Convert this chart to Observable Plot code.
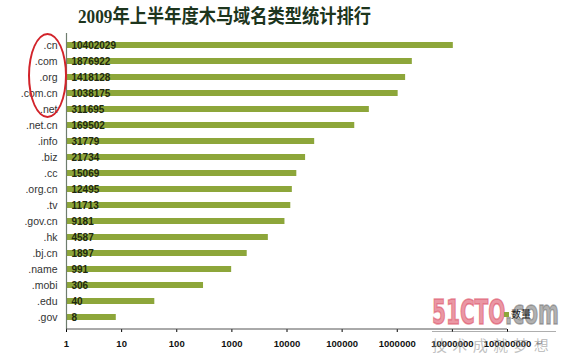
<!DOCTYPE html>
<html>
<head>
<meta charset="utf-8">
<script src="https://cdn.jsdelivr.net/npm/d3@7"></script>
<script src="https://cdn.jsdelivr.net/npm/@observablehq/plot@0.6"></script>
<style>
  html, body { margin: 0; padding: 0; background: #fff; }
  #wrap { position: relative; width: 566px; height: 362px; overflow: hidden; font-family: "Liberation Sans", Arial, sans-serif; }
  #title { position: absolute; left: 78px; top: 6px; font-family: "Liberation Serif", "Noto Sans CJK SC", serif; font-weight: bold; font-size: 19px; line-height: 22px; color: #1d351d; white-space: nowrap; }
  #ellipse { position: absolute; left: 28px; top: 33px; width: 35px; height: 81px; border: 2px solid #d2232a; border-radius: 50%; }
  .ov { position: absolute; white-space: nowrap; transform-origin: 0 0; }
  #wm1 { left: 432px; top: 296px; font-family: "DejaVu Sans", sans-serif; font-weight: bold; font-size: 33px; line-height: 34px; }
  #wm1 .a { color: rgba(222, 90, 110, 0.65); -webkit-text-stroke: 1.6px rgba(222, 90, 110, 0.65); }
  #wm1 .b { color: rgba(110, 110, 110, 0.55); -webkit-text-stroke: 1.6px rgba(110, 110, 110, 0.55); }
  #wmline { position: absolute; left: 432px; top: 331px; width: 124px; height: 1px; background: rgba(120,120,120,0.6); }
  #wm2 { left: 432px; top: 335px; font-family: "Noto Sans CJK SC", sans-serif; font-size: 15px; line-height: 20px; color: rgba(140,140,140,0.55); }
  #ret { position: absolute; left: 536px; top: 338px; font-family: "DejaVu Sans", sans-serif; font-size: 9px; color: #888; }
  #legend { position: absolute; left: 504px; top: 307px; font-family: "Noto Sans CJK SC", sans-serif; font-size: 10px; line-height: 13px; color: #222; white-space: nowrap; }
  #legend i { display: inline-block; width: 5px; height: 5px; background: #8da63a; margin-right: 2px; vertical-align: 1px; }
</style>
</head>
<body>
<div id="wrap">
  <div id="chart"></div>
  <div id="title" class="ov">2009年上半年度木马域名类型统计排行</div>
  <div id="ellipse"></div>
  <div id="wm1" class="ov"><span class="a">51CTO</span><span class="b">.com</span></div>
  <div id="wmline"></div>
  <div id="wm2" class="ov">技术成就梦想</div>
  <div id="ret">↵</div>
  <div id="legend"><i></i>数量</div>
</div>
<script>
const domains = [".cn", ".com", ".org", ".com.cn", ".net", ".net.cn", ".info", ".biz", ".cc", ".org.cn", ".tv", ".gov.cn", ".hk", ".bj.cn", ".name", ".mobi", ".edu", ".gov"];
const counts = [10402029, 1876922, 1418128, 1038175, 311695, 169502, 31779, 21734, 15069, 12495, 11713, 9181, 4587, 1897, 991, 306, 40, 8];
const tickValues = [1, 10, 100, 1000, 10000, 100000, 1000000, 10000000, 100000000];

const data = domains.map((name, i) => ({name, value: counts[i]}));

const chart = Plot.plot({
  width: 566,
  height: 362,
  marginTop: 33,
  marginBottom: 33,
  marginLeft: 66,
  marginRight: 59,
  style: {fontFamily: "Liberation Sans, Arial, sans-serif", background: "transparent"},
  x: {type: "log", domain: [1, 100000000], ticks: tickValues, tickFormat: d => String(d), tickSize: 3, tickPadding: 8, label: null},
  y: {domain: domains, paddingInner: 0.62, paddingOuter: 0.31, align: 0.5, label: null, tickSize: 0, tickPadding: 9},
  marks: [
    Plot.barX(data, {x1: 1, x2: "value", y: "name", fill: "#8da63a"}),
    Plot.text(data, {x: 1, y: "name", text: d => String(d.value), textAnchor: "start", dx: 5, fontWeight: "bold", fontSize: 10, fill: "#1f2a10"}),
    Plot.ruleX([1], {stroke: "#6e7d6e", strokeWidth: 1.2})
  ]
});
chart.querySelectorAll('[aria-label="y-axis tick label"]').forEach(el => { el.setAttribute("font-size", "10.5"); el.setAttribute("fill", "#333"); });
chart.querySelectorAll('[aria-label="x-axis tick label"]').forEach(el => { el.setAttribute("font-size", "9.5"); el.setAttribute("font-weight", "bold"); el.setAttribute("fill", "#111"); });
// x-axis baseline, placed through the library's x scale
const xs = chart.scale("x");
const yBase = 362 - 33;
d3.select(chart).append("line")
  .attr("x1", xs.apply(1)).attr("x2", xs.apply(100000000))
  .attr("y1", yBase).attr("y2", yBase)
  .attr("stroke", "#555").attr("stroke-width", 1);
document.getElementById("chart").appendChild(chart);

// fit overlay texts to the reference widths
function fit(id, target) {
  const el = document.getElementById(id);
  const w = el.getBoundingClientRect().width;
  if (w > 0) el.style.transform = `scaleX(${target / w})`;
}
function spaceFit(id, target) {
  const el = document.getElementById(id);
  const n = el.textContent.length;
  const w = el.getBoundingClientRect().width;
  if (w < target) el.style.letterSpacing = ((target - w) / n) + "px";
  else el.style.transform = `scaleX(${target / w})`;
}
spaceFit("title", 293);
fit("wm1", 127);
spaceFit("wm2", 122);
</script>
</body>
</html>
